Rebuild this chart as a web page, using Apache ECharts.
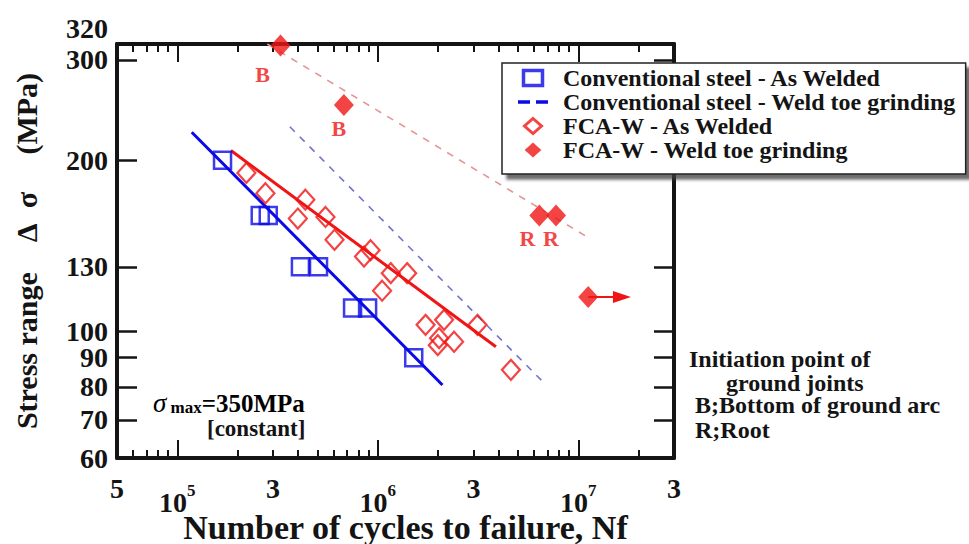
<!DOCTYPE html>
<html>
<head>
<meta charset="utf-8">
<script src="https://cdn.jsdelivr.net/npm/echarts@6/dist/echarts.min.js"></script>
<style>
  html, body { margin: 0; padding: 0; background: #fff; }
  #chart { width: 969px; height: 544px; }
</style>
</head>
<body>
<div id="chart"></div>
<script>
// ---- S-N test results: cycles to failure vs. stress range (MPa) ----
const convAsWeldedN = [1.68e5, 2.59e5, 2.84e5, 4.11e5, 5.06e5, 7.48e5, 8.89e5, 1.51e6];
const convAsWeldedS = [200, 160, 160, 130, 130, 110, 110, 90];

const fcaAsWeldedN = [2.21e5, 2.75e5, 4.35e5, 3.99e5, 5.48e5, 6.08e5, 9.2e5, 8.53e5, 1.16e6,
                      1.40e6, 1.05e6, 1.73e6, 2.14e6, 3.14e6, 2.02e6, 2.40e6, 1.99e6, 4.61e6];
const fcaAsWeldedS = [190, 175, 170.5, 158, 159, 145, 139, 135.5, 126.7,
                      126.7, 118, 102.8, 104.9, 102.8, 97.4, 96, 94.7, 85.7];

const fcaGroundN = [3.27e5, 6.77e5, 6.39e6, 7.74e6, 1.12e7];
const fcaGroundS = [318, 250, 160, 160, 115];
const fcaGroundTag = ['B', 'B', 'R', 'R', ''];
// the last ground specimen did not fail (run-out)
const runoutEndN = 1.65e7;

// ---- regression lines (end points) ----
const convAsWeldedFitN = [1.18e5, 2.10e6];
const convAsWeldedFitS = [224, 80.6];
const convGroundFitN = [3.64e5, 6.74e6];
const convGroundFitS = [229, 81.3];
const fcaAsWeldedFitN = [1.85e5, 3.88e6];
const fcaAsWeldedFitS = [208, 94.1];
const fcaGroundFitN = [2.81e5, 1.13e7];
const fcaGroundFitS = [320, 146];

// ---- axes ----
const xMin = 5e4, xMax = 3e7;
const yMin = 60, yMax = 320;
const xLabelValues = [5e4, 1e5, 3e5, 1e6, 3e6, 1e7, 3e7];
const xMajorTicks = [1e5, 1e6, 1e7];
const xMinorTicks = [6e4, 7e4, 8e4, 9e4,
                     2e5, 3e5, 4e5, 5e5, 6e5, 7e5, 8e5, 9e5,
                     2e6, 3e6, 4e6, 5e6, 6e6, 7e6, 8e6, 9e6,
                     2e7];
const yLabelValues = [60, 70, 80, 90, 100, 130, 200, 300, 320];
const yTickValues = [70, 80, 90, 100, 130, 200, 300];

// ---- text ----
const xTitle = 'Number of cycles to failure, Nf';
const yTitle = 'Stress range\u00a0\u00a0\u00a0\u00a0Δ\u00a0\u00a0σ\u00a0\u00a0\u00a0\u00a0\u00a0(MPa)';
const legendNames = [
  'Conventional steel - As Welded',
  'Conventional steel - Weld toe grinding',
  'FCA-W - As Welded',
  'FCA-W - Weld toe grinding'
];
const noteLines = ['Initiation point of', 'ground joints', 'B;Bottom of ground arc', 'R;Root'];

const FONT = 'Liberation Serif';
const INK = '#141414';
const BLUE = '#0a0ae8';
const RED = '#f01414';

function pairs(xs, ys) { return xs.map((x, i) => [x, ys[i]]); }

function xLabelFormatter(v) {
  const e = Math.round(Math.log10(v));
  if (Math.abs(v - Math.pow(10, e)) < 1e-6 * v) return '{b|10}{s|' + e + '}';
  const lead = Math.round(v / Math.pow(10, Math.floor(Math.log10(v) + 1e-9)));
  return '{n|' + lead + '}';
}
function yLabelFormatter(v) {
  return v === yMax ? '{t|' + v + '}' : '{n|' + v + '}';
}

const chart = echarts.init(document.getElementById('chart'), null, { renderer: 'svg' });

const xBase = {
  type: 'log', logBase: 10, min: xMin, max: xMax, gridIndex: 0,
  splitLine: { show: false }, minorTick: { show: false }, minorSplitLine: { show: false }
};
const yBase = {
  type: 'log', logBase: 10, min: yMin, max: yMax, gridIndex: 0,
  splitLine: { show: false }, minorTick: { show: false }, minorSplitLine: { show: false }
};
const thickLine = { show: true, onZero: false, lineStyle: { color: INK, width: 4 } };

// label offsets for the crack-initiation tags on the ground specimens
const tagOffsets = [[-18, 29], [-5, 23], [-12, 23], [-5, 23], [0, 0]];

// legend glyphs
const ICON_SQUARE = 'path://M0,0H19V15H0Z';
const ICON_DASH = 'path://M0,0H10V3H0ZM15,0H25V3H15Z';
const ICON_DIAMOND = 'path://M8.5,0L17,7.5L8.5,15L0,7.5Z';
const ICON_DIAMOND_BIG = 'path://M10,0L20,9L10,18L0,9Z';

const option = {
  backgroundColor: '#fff',
  animation: false,
  textStyle: { fontFamily: FONT },
  grid: { left: 117, right: 295, top: 44, bottom: 86, containLabel: false, outerBoundsMode: 'none' },
  xAxis: [
    Object.assign({}, xBase, {
      position: 'bottom',
      axisLine: thickLine,
      axisTick: { show: true, inside: true, length: 8, lineStyle: { color: INK, width: 2 }, customValues: xMinorTicks },
      axisLabel: {
        show: true, margin: 16, customValues: xLabelValues, formatter: xLabelFormatter,
        color: INK, fontFamily: FONT, fontWeight: 'bold',
        rich: {
          n: { fontSize: 28, lineHeight: 28, fontWeight: 'bold', fontFamily: FONT, color: INK },
          b: { fontSize: 28, lineHeight: 42, verticalAlign: 'bottom', fontWeight: 'bold', fontFamily: FONT, color: INK },
          s: { fontSize: 17, verticalAlign: 'top', padding: [8, 0, 0, 0], fontWeight: 'bold', fontFamily: FONT, color: INK }
        }
      },
      name: xTitle, nameLocation: 'middle', nameGap: 58, nameMoveOverlap: false,
      nameTextStyle: { fontFamily: FONT, fontWeight: 'bold', fontSize: 34, lineHeight: 22, color: INK, padding: [0, 0, 0, 20] }
    }),
    Object.assign({}, xBase, {
      position: 'bottom',
      axisLine: { show: false },
      axisTick: { show: true, inside: true, length: 18, lineStyle: { color: INK, width: 2 }, customValues: xMajorTicks },
      axisLabel: { show: false }
    }),
    Object.assign({}, xBase, {
      position: 'top',
      axisLine: thickLine,
      axisTick: { show: true, inside: true, length: 8, lineStyle: { color: INK, width: 2 }, customValues: xMinorTicks },
      axisLabel: { show: false }
    }),
    Object.assign({}, xBase, {
      position: 'top',
      axisLine: { show: false },
      axisTick: { show: true, inside: true, length: 18, lineStyle: { color: INK, width: 2 }, customValues: xMajorTicks },
      axisLabel: { show: false }
    })
  ],
  yAxis: [
    Object.assign({}, yBase, {
      position: 'left',
      axisLine: thickLine,
      axisTick: { show: true, inside: true, length: 20, lineStyle: { color: INK, width: 2.5 }, customValues: yTickValues },
      axisLabel: {
        show: true, margin: 9, customValues: yLabelValues, formatter: yLabelFormatter,
        rich: {
          n: { fontSize: 28, fontWeight: 'bold', fontFamily: FONT, color: INK },
          t: { fontSize: 28, fontWeight: 'bold', fontFamily: FONT, color: INK, padding: [0, 0, 32, 0] }
        }
      },
      name: yTitle, nameLocation: 'middle', nameGap: 76, nameRotate: 90, nameMoveOverlap: false,
      nameTextStyle: { fontFamily: FONT, fontWeight: 'bold', fontSize: 30, color: INK }
    }),
    Object.assign({}, yBase, {
      position: 'right',
      axisLine: thickLine,
      axisTick: { show: true, inside: true, length: 20, lineStyle: { color: INK, width: 2.5 }, customValues: yTickValues },
      axisLabel: { show: false }
    })
  ],
  legend: {
    orient: 'vertical',
    left: 502, top: 63,
    padding: [3, 10, 12, 16],
    itemGap: 0, itemWidth: 30, itemHeight: 15,
    symbolKeepAspect: true,
    selectedMode: false,
    backgroundColor: '#fff',
    borderColor: '#222', borderWidth: 1.5, borderRadius: 0,
    shadowColor: 'rgba(60,60,60,0.75)', shadowBlur: 3, shadowOffsetX: 5, shadowOffsetY: 5,
    textStyle: { fontFamily: FONT, fontWeight: 'bold', fontSize: 24, lineHeight: 24, color: INK, padding: [0, 0, 0, 10] },
    data: [
      { name: legendNames[0], icon: ICON_SQUARE, itemStyle: { color: '#fff', borderColor: BLUE, borderWidth: 3.5 } },
      { name: legendNames[1], icon: ICON_DASH, itemStyle: { color: BLUE, borderWidth: 0 } },
      { name: legendNames[2], icon: ICON_DIAMOND, itemStyle: { color: '#fff', borderColor: RED, borderWidth: 3 } },
      { name: legendNames[3], icon: ICON_DIAMOND_BIG, itemStyle: { color: RED, borderWidth: 0 } }
    ]
  },
  graphic: [
    {
      type: 'text', left: 153, top: 389, z: 10,
      style: {
        text: '{g|σ}{m| max}{v|=350MPa}',
        rich: {
          g: { fontFamily: FONT, fontStyle: 'italic', fontSize: 27, color: INK, verticalAlign: 'bottom', lineHeight: 22 },
          m: { fontFamily: FONT, fontWeight: 'bold', fontSize: 17, color: INK, verticalAlign: 'bottom', lineHeight: 16 },
          v: { fontFamily: FONT, fontWeight: 'bold', fontSize: 25, color: INK, verticalAlign: 'bottom', lineHeight: 22 }
        }
      }
    },
    {
      type: 'text', left: 207, top: 417, z: 10,
      style: { text: '[constant]', fontFamily: FONT, fontWeight: 'bold', fontSize: 23, lineHeight: 20, fill: INK }
    },
    { type: 'text', left: 689, top: 347, style: { text: noteLines[0], fontFamily: FONT, fontWeight: 'bold', fontSize: 24, fill: INK } },
    { type: 'text', left: 726, top: 371, style: { text: noteLines[1], fontFamily: FONT, fontWeight: 'bold', fontSize: 24, fill: INK } },
    { type: 'text', left: 695, top: 393, style: { text: noteLines[2], fontFamily: FONT, fontWeight: 'bold', fontSize: 24, fill: INK } },
    { type: 'text', left: 695, top: 418, style: { text: noteLines[3], fontFamily: FONT, fontWeight: 'bold', fontSize: 24, fill: INK } }
  ],
  series: [
    {
      name: legendNames[1], type: 'line', symbol: 'none', z: 2,
      data: pairs(convGroundFitN, convGroundFitS),
      lineStyle: { color: '#7272cc', width: 1.6, type: [7, 7] }
    },
    {
      name: 'FCA-W ground fit', type: 'line', symbol: 'none', z: 2,
      data: pairs(fcaGroundFitN, fcaGroundFitS),
      lineStyle: { color: '#e59595', width: 1.6, type: [7, 7] }
    },
    {
      name: 'Conventional as-welded fit', type: 'line', symbol: 'none', z: 2,
      data: pairs(convAsWeldedFitN, convAsWeldedFitS),
      lineStyle: { color: BLUE, width: 3 }
    },
    {
      name: 'FCA-W as-welded fit', type: 'line', symbol: 'none', z: 2,
      data: pairs(fcaAsWeldedFitN, fcaAsWeldedFitS),
      lineStyle: { color: RED, width: 3 }
    },
    {
      name: legendNames[0], type: 'scatter', symbol: 'rect', symbolSize: 17, z: 3,
      data: pairs(convAsWeldedN, convAsWeldedS),
      itemStyle: { color: 'rgba(255,255,255,0)', borderColor: BLUE, borderWidth: 2.5 }
    },
    {
      name: legendNames[2], type: 'scatter', symbol: 'diamond', symbolSize: [18, 20], z: 3,
      data: pairs(fcaAsWeldedN, fcaAsWeldedS),
      itemStyle: { color: 'rgba(255,255,255,0)', borderColor: RED, borderWidth: 2.2 }
    },
    {
      name: legendNames[3], type: 'scatter', symbol: 'diamond', symbolSize: [20, 22], z: 4,
      data: fcaGroundN.map((n, i) => ({
        value: [n, fcaGroundS[i]],
        label: { show: fcaGroundTag[i] !== '', formatter: fcaGroundTag[i], offset: tagOffsets[i] }
      })),
      itemStyle: { color: RED },
      label: { position: 'inside', color: RED, fontFamily: FONT, fontWeight: 'bold', fontSize: 22 },
      markLine: {
        silent: true, animation: false,
        symbol: ['none', 'triangle'], symbolSize: [12, 18],
        label: { show: false },
        lineStyle: { color: RED, width: 2, type: 'solid' },
        data: [[
          { coord: [fcaGroundN[4], fcaGroundS[4]] },
          { coord: [runoutEndN, fcaGroundS[4]] }
        ]]
      }
    }
  ]
};

chart.setOption(option);
</script>
</body>
</html>
